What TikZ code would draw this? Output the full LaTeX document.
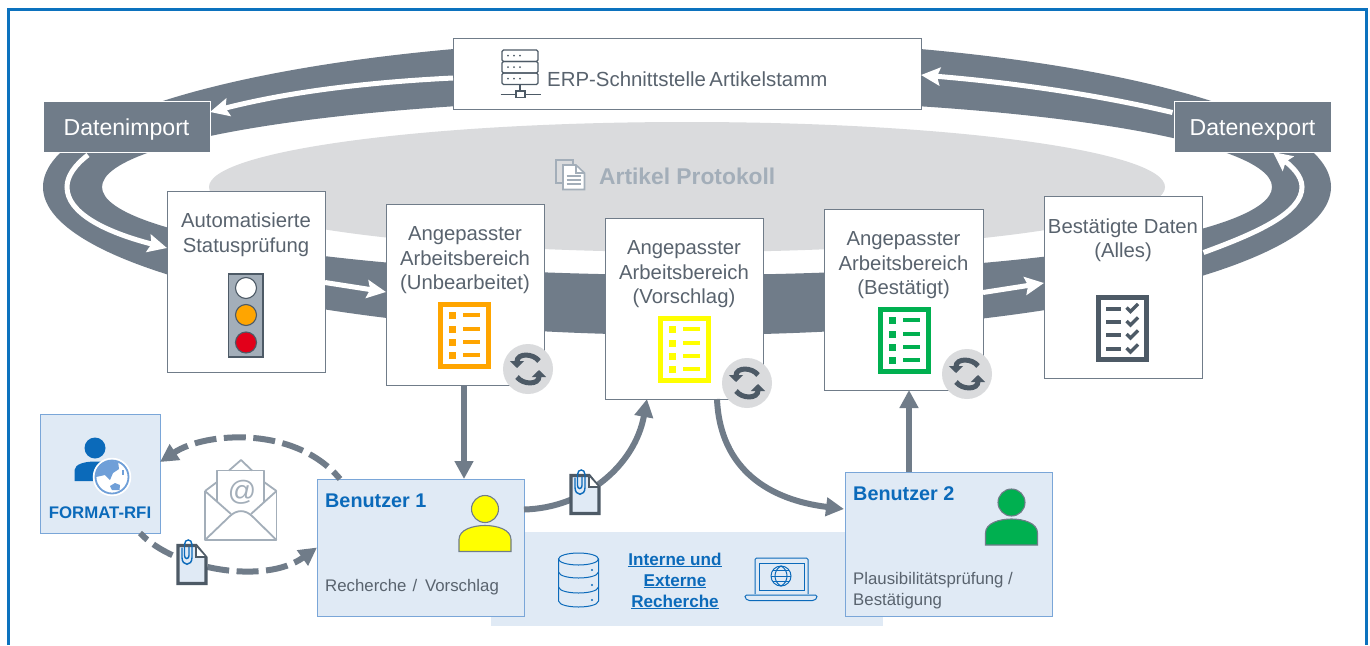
\documentclass[tikz,border=0pt]{standalone}
\usepackage{fontspec}
\setmainfont{Liberation Sans}
\usetikzlibrary{arrows.meta}
\definecolor{ringc}{HTML}{707C89}
\definecolor{framec}{HTML}{0C72BE}
\definecolor{protoc}{HTML}{DADBDD}
\definecolor{txtc}{HTML}{59636E}
\definecolor{darkc}{HTML}{4D5A66}
\definecolor{lightc}{HTML}{A3AEB9}
\definecolor{paleblue}{HTML}{E0EAF5}
\definecolor{edgeblue}{HTML}{7AA6D8}
\definecolor{bluetxt}{HTML}{0B6ABA}
\definecolor{midblue}{HTML}{6F9FD8}
\definecolor{orangec}{HTML}{FFA500}
\definecolor{yellowc}{HTML}{FFFF00}
\definecolor{greenc}{HTML}{00B050}
\definecolor{redc}{HTML}{E2001A}
\tikzset{
  whitebox/.style={draw=ringc,line width=1pt,fill=white,anchor=north west,inner sep=0,outer sep=0},
  portbox/.style={draw=white,line width=.8pt,fill=ringc,text=white,inner sep=0,outer sep=0,
    font=\fontsize{23.1}{27}\selectfont,anchor=north west,text height=17.6pt,text depth=0pt},
  bluebox/.style={draw=edgeblue,line width=1pt,fill=paleblue,anchor=north west,inner sep=0,outer sep=0},
  boxtxt/.style={font=\fontsize{20.3}{24.4}\selectfont,text=txtc,align=center,inner sep=0,anchor=north},
  smalltxt/.style={font=\fontsize{16.8}{21}\selectfont,text=txtc,align=left,inner sep=0,anchor=north west},
  usertxt/.style={font=\fontsize{19.8}{23}\selectfont\bfseries,text=bluetxt,inner sep=0,anchor=north west},
  whitearrow/.style={draw=white,line width=5pt,-{Stealth[length=19pt,width=18pt,inset=3pt]}},
  flowarrow/.style={draw=ringc,line width=6pt,-{Triangle[length=18pt,width=18pt]}},
  dasharrow/.style={flowarrow,dash pattern=on 22pt off 7.5pt},
  synccirc/.style={circle,fill=protoc,minimum size=50pt,inner sep=0},
  syncline/.style={draw=darkc,line width=5pt,-{Triangle[length=7pt,width=14pt]}},
}
\newcommand{\listicon}[3]{%
  \begin{scope}[shift={(#1,#2)}]
    \draw[#3,line width=5pt] (2.5,2.5) rectangle (50.5,64.5);
    \foreach \yy in {13,27,40,53}{
      \fill[#3] (11,\yy-3.5) rectangle (18,\yy+3.5);
      \fill[#3] (25,\yy-1.8) rectangle (42,\yy+1.8);
    }
  \end{scope}}
\newcommand{\syncicon}[1]{%
  \begin{scope}[shift={(#1)}]
    \draw[syncline] (11,-8) .. controls (5,-16) and (-11,-16) .. (-11,-1);
    \draw[syncline] (-11,8) .. controls (-5,16) and (11,16) .. (11,1);
  \end{scope}}
\newcommand{\clipdoc}[2]{%
  \begin{scope}[shift={(#1,#2)}]
    \draw[darkc,fill=paleblue,line width=3.2pt,line join=miter] (0,0) -- (18,0) -- (28,12) -- (28,38) -- (0,38) -- cycle;
    \draw[darkc,line width=2pt,fill=white] (18,1) -- (18,11) -- (27,11);
    \draw[bluetxt,line width=1.4pt] (4,2) -- (4,12) .. controls (4,21) and (14,21) .. (14,12) -- (14,-1)
      .. controls (14,-7) and (6.5,-7) .. (6.5,-1) -- (6.5,10) .. controls (6.5,14) and (11,14) .. (11,10) -- (11,1);
  \end{scope}}
\newcommand{\person}[4]{% cx, top y, colour, border
  \begin{scope}[shift={(#1,#2)}]
    \draw[#4,fill=#3,line width=1.1pt] (0,13.5) circle (13.5pt);
    \draw[#4,fill=#3,line width=1.1pt] (-26,56) -- (-26,44) .. controls (-26,34) and (-12,30) .. (0,30)
       .. controls (12,30) and (26,34) .. (26,44) -- (26,56) -- cycle;
  \end{scope}}
\begin{document}
\begin{tikzpicture}[x=1pt,y=-1pt]
\useasboundingbox (0,0) rectangle (1370,645);
\fill[white] (0,0) rectangle (1370,645);
% frame
\draw[framec,line width=3pt] (8.5,645) -- (8.5,9.5) -- (1366,9.5) -- (1366,645);
% ring + protocol ellipse
\fill[ringc,even odd rule] (687,187) ellipse [x radius=644pt,y radius=148pt]
   (687,187) ellipse [x radius=585pt,y radius=88pt];
\fill[protoc] (687,187) ellipse [x radius=478pt,y radius=65pt];
% protocol label
\begin{scope}[lightc,line width=1.6pt]
  \draw[fill=protoc] (556,160) rectangle (573,183);
  \draw[fill=white] (563,165) -- (576,165) -- (584.5,173) -- (584.5,189.5) -- (563,189.5) -- cycle;
  \draw (576,165) -- (576,173) -- (584.5,173);
  \foreach \yy in {176,180,184}{\draw (566.5,\yy) -- (581,\yy);}
\end{scope}
\node[inner sep=0,anchor=west,font=\fontsize{22.8}{26}\selectfont\bfseries,text=lightc] (proto) at (599,176) {Artikel Protokoll};
% boxes
\node[whitebox,minimum width=468pt,minimum height=71pt] (erp) at (453,38) {};
\node[portbox,minimum width=167pt,minimum height=51pt] (dimport) at (43,101) {Datenimport};
\node[portbox,minimum width=157pt,minimum height=51pt] (export) at (1174,101) {Datenexport};
\node[whitebox,minimum width=158pt,minimum height=181pt] (auto) at (167,191) {};
\node[whitebox,minimum width=158pt,minimum height=181pt] (unb) at (386,204) {};
\node[whitebox,minimum width=158pt,minimum height=181pt] (vor) at (605,218) {};
\node[whitebox,minimum width=159pt,minimum height=181pt] (best) at (824,209) {};
\node[whitebox,minimum width=158pt,minimum height=182pt] (dest) at (1044,196) {};
% box texts
\node[inner sep=0,anchor=west,font=\fontsize{20.4}{24}\selectfont,text=txtc] (erpl) at (547,79) {ERP-Schnittstelle\hspace{3.5pt}Artikelstamm};
\node[boxtxt] (autol) at (246,213) {Automatisierte\\Statusprüfung};
\node[boxtxt] (unbl) at (465,226.5) {Angepasster\\Arbeitsbereich\\(Unbearbeitet)};
\node[boxtxt] (vorl) at (684,240.5) {Angepasster\\Arbeitsbereich\\(Vorschlag)};
\node[boxtxt] (bestl) at (903.5,231.5) {Angepasster\\Arbeitsbereich\\(Bestätigt)};
\node[boxtxt] (destl) at (1123,218.5) {Bestätigte Daten\\(Alles)};
% server icon
\begin{scope}[darkc,line width=1.1pt]
  \foreach \yy in {50,61.5,73}{
    \draw[rounded corners=1.5pt] (502,\yy) rectangle (538,\yy+11.5);
    \foreach \xx in {508,514,520}{\fill (\xx,\yy+5.7) circle (1pt);}
  }
  \draw (520,84.5) -- (520,91);
  \draw[fill=white] (516,91) rectangle (525,97.5);
  \draw (500.5,94.3) -- (516,94.3) (525,94.3) -- (541,94.3);
\end{scope}
% white ring arrows
\draw[whitearrow] ([yshift=-4.5pt]erp.west) .. controls (372,82) and (292,91) .. ([yshift=14.5pt]dimport.east);
\draw[whitearrow] ([xshift=-38.5pt,yshift=-3pt]dimport.south) .. controls (75,165) and (67,176) .. (67,187)
   .. controls (67,213) and (105,232) .. ([yshift=33.5pt]auto.west);
\draw[whitearrow] ([yshift=-1pt]auto.east) -- ([yshift=2.5pt]unb.west);
\draw[whitearrow] ([yshift=7pt]best.east) -- ([yshift=4pt]dest.west);
\draw[whitearrow] ([xshift=1.5pt,yshift=34.5pt]dest.east) .. controls (1260,232) and (1302,212) .. (1302,187)
   .. controls (1302,175) and (1290,165) .. ([xshift=20.5pt]export.south);
\draw[whitearrow] ([xshift=-1.5pt,yshift=14pt]export.west) .. controls (1090,93) and (1005,82) .. ([yshift=-1.5pt]erp.east);
% traffic light
\draw[darkc,fill=lightc,line width=1.1pt] (228.5,274) rectangle (263,357);
\draw[darkc,fill=white,line width=1.1pt] (246,288) circle (10.5pt);
\draw[darkc,fill=orangec,line width=1.1pt] (246,315) circle (10.5pt);
\draw[darkc,fill=redc,line width=1.1pt] (246,342.5) circle (10.5pt);
% list icons
\listicon{438}{302}{orangec}
\listicon{658}{316}{yellowc}
\listicon{878}{307}{greenc}
% checklist
\begin{scope}[shift={(1096,295)}]
  \draw[darkc,line width=5.3pt] (2.6,2.6) rectangle (50.4,64.4);
  \foreach \yy in {13.5,27,40,54}{
    \fill[darkc] (10,\yy-2) rectangle (25,\yy+2);
    \draw[darkc,line width=3.4pt] (30.5,\yy-1) -- (34.5,\yy+3) -- (42,\yy-4.5);
  }
\end{scope}
% lower area
\fill[paleblue] (491,532) rectangle (883,626);
\node[bluebox,minimum width=120pt,minimum height=119pt] (fmt) at (40,414) {};
\node[bluebox,minimum width=207pt,minimum height=137pt] (user1) at (317,479) {};
\node[bluebox,minimum width=207pt,minimum height=144pt] (user2) at (845,472) {};
% sync
\node[synccirc] (s1) at (528,369) {};
\node[synccirc] (s2) at (747,383) {};
\node[synccirc] (s3) at (967,374) {};
\syncicon{s1}
\syncicon{s2}
\syncicon{s3}
% flow arrows
\draw[flowarrow] ([xshift=-1pt]unb.south) -- ([xshift=43.5pt]user1.north);
\draw[flowarrow] ([yshift=38pt]user1.east) .. controls (585,508) and (635,465) .. ([xshift=-37pt]vor.south);
\draw[flowarrow] ([xshift=33pt]vor.south) .. controls (720,470) and (770,500) .. ([xshift=-1pt,yshift=35pt]user2.west);
\draw[flowarrow] ([xshift=-39.5pt]user2.north) -- ([xshift=5.5pt]best.south);
\draw[dasharrow,dash phase=12pt] ([xshift=-80.5pt]user1.north) .. controls (295,425) and (205,432) .. ([yshift=11.5pt]fmt.east);
\draw[dasharrow,dash phase=12pt] ([xshift=40pt]fmt.south) .. controls (175,570) and (265,585) .. (user1.west);
% clip docs
\clipdoc{178}{545.5}
\clipdoc{571}{475.5}
% envelope
\begin{scope}[lightc,line width=1.8pt,line join=round]
  \draw (205,491) -- (205,540) -- (276.5,540) -- (276.5,491);
  \draw (205,491) -- (217,482) (276.5,491) -- (264,482);
  \draw (229,470.5) -- (241,460) -- (252,470.5);
  \draw (217,502) -- (217,470.5) -- (264,470.5) -- (264,502);
  \draw (205,491) -- (231,514) (276.5,491) -- (251,514);
  \draw (205,540) -- (230,516) .. controls (237,509.5) and (245,509.5) .. (252,516) -- (276.5,540);
\end{scope}
\node[inner sep=0,font=\fontsize{28}{30}\selectfont,text=lightc] (at) at (242,492) {@};
% format icon
\fill[bluetxt] (95,448) circle (10.5pt);
\fill[bluetxt] (74.5,481) -- (74.5,470) .. controls (75,464) and (85,461.5) .. (95,461.5) .. controls (105,461.5) and (112,463) .. (116,468) -- (116,481) -- cycle;
\draw[white,line width=1.5pt,fill=white] (112,477) circle (18.5pt);
\draw[midblue,line width=1.8pt,fill=white] (112,477) circle (16.5pt);
\begin{scope}
  \clip (112,477) circle (16pt);
  \fill[midblue] (95,461) -- (118,461) -- (119,469) -- (113,473) -- (110,480) -- (105,475) -- (96,477) -- cycle;
  \fill[midblue] (122,470) rectangle (124,475);
  \fill[midblue] (110,486) -- (115,483) -- (120,485) -- (119.5,490) -- (112,490) -- cycle;
\end{scope}
\node[inner sep=0,font=\fontsize{16.8}{20}\selectfont\bfseries,text=bluetxt] (fmtl) at (100,512.5) {FORMAT-RFI};
% user labels
\node[usertxt] (u1t) at (325,493.5) {Benutzer 1};
\node[smalltxt] (u1s) at (325,579) {Recherche\hspace{6.3pt}/\hspace{7.7pt}Vorschlag};
\node[usertxt] (u2t) at (853,486.5) {Benutzer 2};
\node[smalltxt] (u2s) at (853,572) {Plausibilitätsprüfung /\\Bestätigung};
\person{485}{495.5}{yellowc}{ringc}
\person{1011.5}{489}{greenc}{ringc}
% research
\node[inner sep=0,align=center,anchor=north,font=\fontsize{17.1}{21}\selectfont\bfseries,text=bluetxt] (rech) at (675,552.5)
  {\underline{Interne und}\\\underline{Externe}\\\underline{Recherche}};
\begin{scope}[bluetxt,line width=1pt]
  \draw (558.5,559) -- (558.5,601) .. controls (560,609) and (597,609) .. (598.5,601) -- (598.5,559);
  \draw (578.5,559) ellipse [x radius=20pt,y radius=6pt];
  \draw (558.5,572) .. controls (560,580) and (597,580) .. (598.5,572);
  \draw (558.5,587) .. controls (560,595) and (597,595) .. (598.5,587);
  \foreach \yy in {570,585,600}{\fill (592,\yy) circle (1.2pt);}
  \draw[rounded corners=1.5pt] (755,594) -- (755,558) -- (808,558) -- (808,594);
  \draw (759,563) rectangle (804,590);
  \draw[rounded corners=1.5pt] (745,595) -- (817,595) -- (817,598) -- (814,600.5) -- (748,600.5) -- (745,598) -- cycle;
  \draw (781,576) circle (10pt);
  \draw (781,566) .. controls (773,570) and (773,582) .. (781,586);
  \draw (781,566) .. controls (789,570) and (789,582) .. (781,586);
  \draw (771,576) -- (791,576);
  \draw (773,570.5) -- (789,570.5) (773,581.5) -- (789,581.5);
\end{scope}
\end{tikzpicture}
\end{document}
